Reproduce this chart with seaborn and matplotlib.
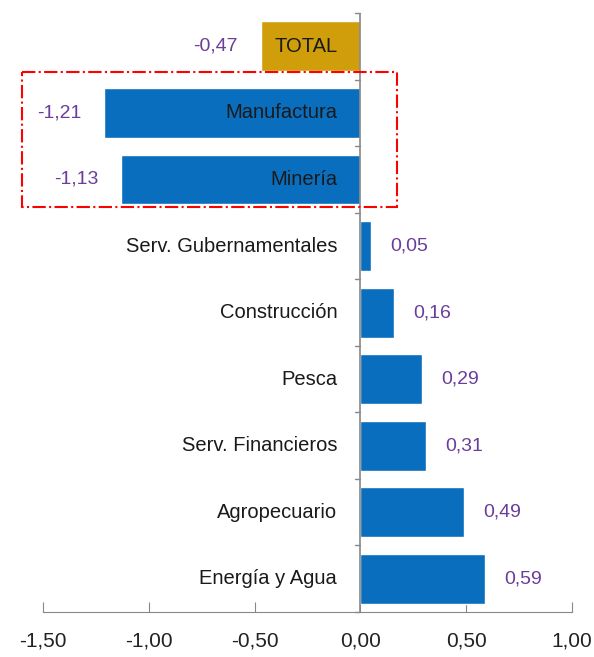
import matplotlib
matplotlib.use("Agg")
import matplotlib.pyplot as plt
import seaborn as sns
import pandas as pd
from matplotlib.patches import Rectangle

sectores = ["TOTAL", "Manufactura", "Minería", "Serv. Gubernamentales", "Construcción",
            "Pesca", "Serv. Financieros", "Agropecuario", "Energía y Agua"]
valores = [-0.47, -1.21, -1.13, 0.05, 0.16, 0.29, 0.31, 0.49, 0.59]
ticks_x = [-1.5, -1.0, -0.5, 0.0, 0.5, 1.0]

df = pd.DataFrame({"sector": sectores, "valor": valores})
df["grupo"] = ["total" if s == "TOTAL" else "sector" for s in sectores]

sns.set_style("white")
plt.rcParams["font.family"] = ["Liberation Sans", "DejaVu Sans"]

fig = plt.figure(figsize=(5.94, 6.57), dpi=100)
ax = fig.add_axes([0.0724, 0.0685, 0.8906, 0.9115])

sns.barplot(data=df, y="sector", x="valor", hue="grupo", orient="h",
            palette={"total": "#D09E0A", "sector": "#0A6EBE"}, saturation=1,
            width=0.75, dodge=False, legend=False, ax=ax)

ax.set_xlim(-1.5, 1.0)
ax.set_ylim(len(sectores) - 0.5, -0.5)
ax.set_xticks(ticks_x)
ax.set_xticklabels([f"{t:.2f}".replace(".", ",") for t in ticks_x], fontsize=15)
ax.set_xlabel("")
ax.set_ylabel("")
ax.set_yticks([i - 0.5 for i in range(len(sectores) + 1)])
ax.set_yticklabels([])

for s in ["top", "right", "left"]:
    ax.spines[s].set_visible(False)
ax.spines["bottom"].set_color("#888888")
ax.axvline(0, color="#888888", lw=1.2, zorder=3)
ax.tick_params(axis="x", bottom=True, direction="in", length=7, color="#888888",
               pad=14, colors="#222222")
ax.tick_params(axis="y", length=0)
for yt in ax.get_yticks():
    ax.plot([-0.025, 0], [yt, yt], color="#888888", lw=1, clip_on=False)

for i, (s, v) in enumerate(zip(sectores, valores)):
    txt = f"{v:.2f}".replace(".", ",")
    ax.text(-0.11, i, s, ha="right", va="center", fontsize=14.5, color="#1a1a1a")
    if v < 0:
        ax.text(v - 0.11, i, txt, ha="right", va="center", fontsize=14, color="#6A3D9A")
    else:
        ax.text(v + 0.09, i, txt, ha="left", va="center", fontsize=14, color="#6A3D9A")

ax.add_patch(Rectangle((-1.597, 0.39), 1.772, 2.03, fill=False, edgecolor="red",
                       lw=1.5, linestyle="-.", clip_on=False, zorder=5))

fig.savefig("out.png", dpi=100)
